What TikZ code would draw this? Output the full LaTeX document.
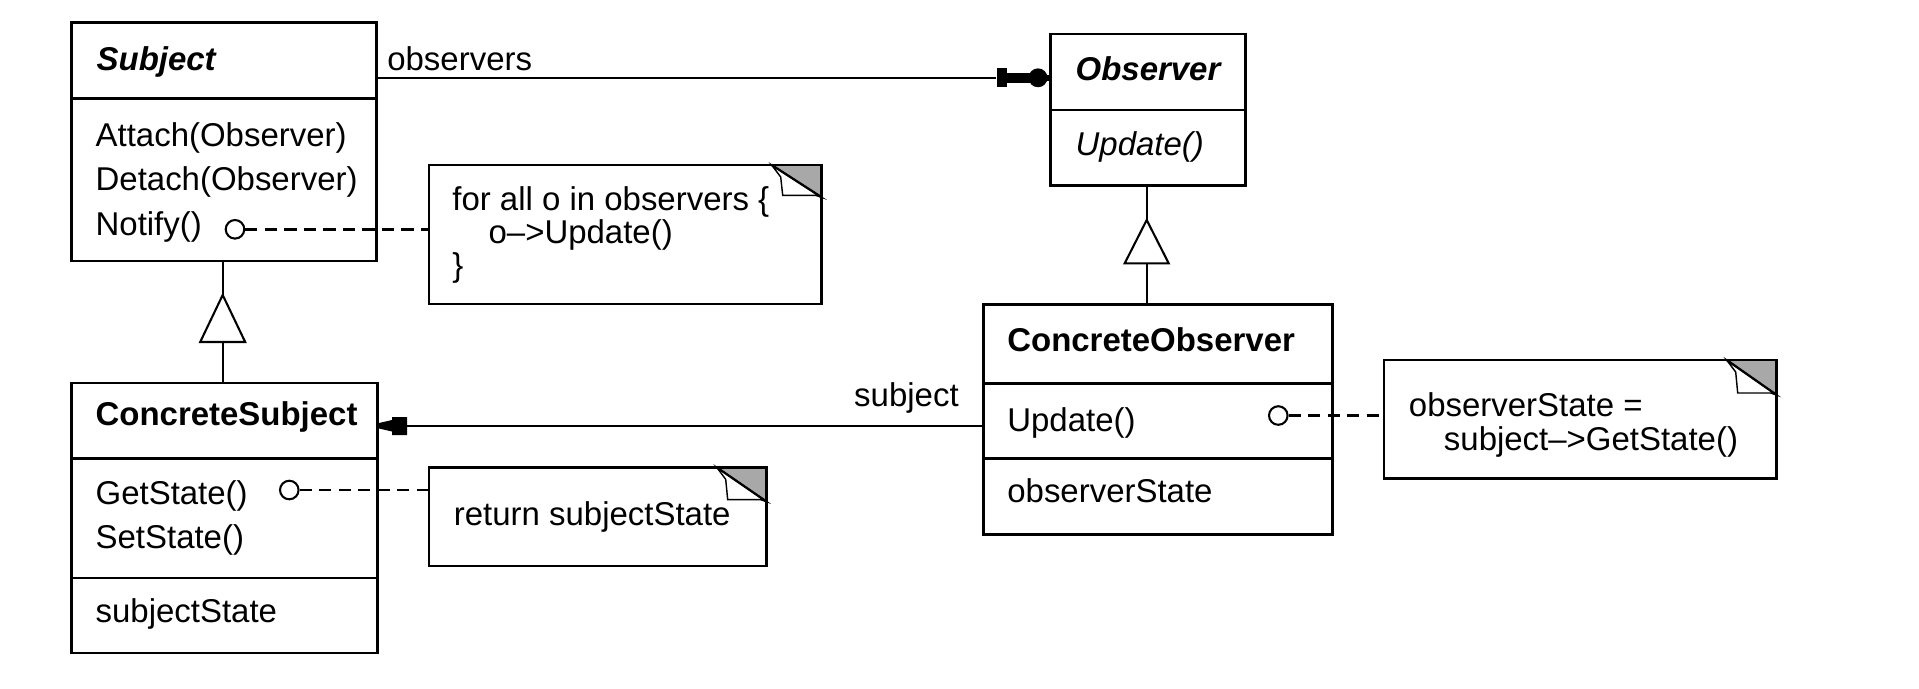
\documentclass[tikz,border=0pt]{standalone}
\usepackage{fontspec}
\setmainfont{Liberation Sans}
\definecolor{eargray}{RGB}{168,168,168}
\newcommand\mkbox[5]{\node[boxst, minimum width={(#4-#2)*0.3125pt}, minimum height={(#5-#3)*0.3125pt}] (#1) at (#2,#3) {};}
% ear: A.x, top y, right x, B.y
\newcommand\mkear[4]{%
  \fill[eargray] (#1,#2) -- (#3,#2) -- (#3,#4) -- cycle;
  \filldraw[fill=white, line width=0.45pt] (#1,#2) -- ({#1+9},{#2+12}) -- ({#1+11},{#4-2}) -- ({#3-6},{#4-2}) -- (#3,#4) -- cycle;
  \draw[line width=0.7pt] (#1,#2) -- (#3,#4);
  \draw[line width=0.8pt] ({#1-5},#2) -- (#3,#2) -- (#3,{#4+5});}
\begin{document}
\begin{tikzpicture}[x=0.3125pt,y=-0.3125pt,
  boxst/.style={draw, line width=0.8pt, inner sep=0pt, outer sep=0pt, anchor=north west},
  txt/.style={anchor=base west, inner sep=0pt, font=\fontsize{10.3}{12}\selectfont},
  conn/.style={line width=0.65pt},
  dashconn/.style={line width=0.75pt, dash pattern=on 3.8pt off 2.3pt},
  ring/.style={circle, draw, line width=0.65pt, minimum size=5.8pt, inner sep=0pt, fill=white},
]
\useasboundingbox (0,0) rectangle (1919,688);

% ---------- Subject ----------
\mkbox{sH}{71.7}{22.7}{376.7}{98.7}
\mkbox{sM}{71.7}{98.7}{376.7}{261}
\node[txt, font=\fontsize{10.3}{12}\selectfont\bfseries\itshape] (tS) at (96,70) {Subject};
\node[txt] (tS1) at (95,146.7) {Attach(Observer)};
\node[txt] (tS2) at (95,190) {Detach(Observer)};
\node[txt] (tS3) at (95,235) {Notify()};

% ---------- Observer ----------
\mkbox{oH}{1050.7}{34}{1245.7}{110}
\mkbox{oM}{1050.7}{110}{1245.7}{185.7}
\node[txt, font=\fontsize{10.3}{12}\selectfont\bfseries\itshape] (tO) at (1075,80) {Observer};
\node[txt, font=\fontsize{10.3}{12}\selectfont\itshape] (tO1) at (1075,155) {Update()};

% ---------- ConcreteSubject ----------
\mkbox{csH}{71.7}{383}{377.3}{458.3}
\mkbox{csM}{71.7}{458.3}{377.3}{578}
\mkbox{csA}{71.7}{578}{377.3}{653}
\node[txt, font=\fontsize{10.3}{12}\selectfont\bfseries] (tCS) at (95,425.7) {ConcreteSubject};
\node[txt] (tCS1) at (95,504.7) {GetState()};
\node[txt] (tCS2) at (95,548) {SetState()};
\node[txt] (tCS3) at (95,622.3) {subjectState};

% ---------- ConcreteObserver ----------
\mkbox{coH}{983.3}{304.3}{1332.3}{383.3}
\mkbox{coM}{983.3}{383.3}{1332.3}{458.3}
\mkbox{coA}{983.3}{458.3}{1332.3}{534.3}
\node[txt, font=\fontsize{10.3}{12}\selectfont\bfseries] (tCO) at (1006.7,351.7) {ConcreteObserver};
\node[txt] (tCO1) at (1006.7,431.7) {Update()};
\node[txt] (tCO2) at (1006.7,502.7) {observerState};

% ---------- Notes ----------
\mkbox{n1}{429}{165}{821.7}{304}
\mkear{771.7}{165}{821.7}{197.3}
\node[txt] (tn1a) at (451.7,210) {for all o in observers \{};
\node[txt] (tn1b) at (488,243) {o-->Update()};
\node[txt] (tn1c) at (451.7,276.7) {\}};

\mkbox{n2}{429}{467.3}{766.7}{566}
\mkear{716.7}{467.3}{766.7}{501.7}
\node[txt] (tn2) at (453.3,525) {return subjectState};

\mkbox{n3}{1384}{360}{1776.7}{478.3}
\mkear{1726.7}{360}{1776.7}{395}
\node[txt] (tn3a) at (1408.3,416.7) {observerState =};
\node[txt] (tn3b) at (1443.3,450) {subject-->GetState()};

% ---------- note links ----------
\node[ring] (c1) at (235,229.3) {};
\node[ring] (c2) at (289.3,490) {};
\node[ring] (c3) at (1278.3,415.5) {};
\draw[dashconn] (c1.east) -- (c1.east -| n1.west);
\draw[dashconn] (c2.east) -- (c2.east -| n2.west);
\draw[dashconn] (c3.east) -- (c3.east -| n3.west);

% ---------- observers association ----------
\node[fill, inner sep=0pt, minimum width=3.1pt, minimum height=5.9pt] (obsRect) at (1002,77.8) {};
\node[circle, fill, inner sep=0pt, minimum size=5.9pt] (obsDot) at (1038,77.8) {};
\draw[conn] (sH.east |- obsRect) -- (obsRect.west);
\draw[line width=3.3pt] (obsRect.center) -- (obsDot.center);
\draw[line width=1.8pt] (obsDot.center) -- (obsDot -| oH.west);
\node[txt] (tobs) at (386.7,70) {observers};

% ---------- subject association ----------
\coordinate (subjTip) at (378.5,425.7);
\draw[conn] (coM.west |- subjTip) -- (subjTip);
\fill (379,423) -- (392,420) -- (392,417) -- (407,417) -- (407,435) -- (392,435) -- (392,431.5) -- (379,428.5) -- cycle;
\node[txt] (tsubj) at (853.6,406) {subject};

% ---------- generalizations ----------
\coordinate (g1a) at (222.7,295);
\coordinate (g1b) at (222.7,342);
\draw[conn] (g1a |- sM.south) -- (g1a);
\draw[conn] (g1b) -- (g1b |- csH.north);
\draw[conn, fill=white] (g1a) -- (200.2,342) -- (245.2,342) -- cycle;

\coordinate (g2a) at (1146.7,220);
\coordinate (g2b) at (1146.7,263.3);
\draw[conn] (g2a |- oM.south) -- (g2a);
\draw[conn] (g2b) -- (g2b |- coH.north);
\draw[conn, fill=white] (g2a) -- (1124.7,263.3) -- (1168.7,263.3) -- cycle;
\end{tikzpicture}
\end{document}
